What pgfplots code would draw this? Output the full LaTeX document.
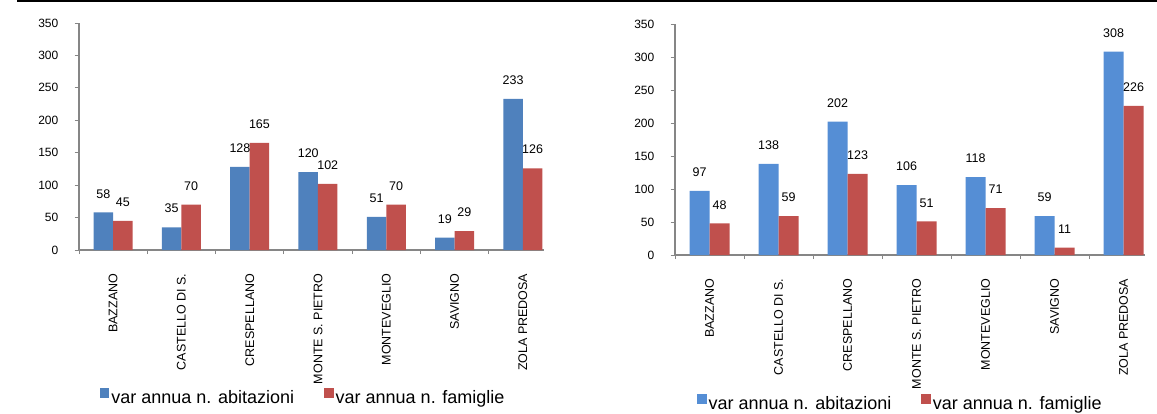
\documentclass[border=0pt]{standalone}
\usepackage{pgfplots}
\pgfplotsset{compat=1.18}
\usepackage{fontspec}
\setmainfont{Liberation Sans}
\definecolor{blueL}{HTML}{4F81BD}
\definecolor{blueR}{HTML}{558ED5}
\definecolor{redB}{HTML}{C0504D}
\definecolor{axgray}{HTML}{868686}
\pgfplotsset{
  /pgf/number format/assume math mode=true,
  sqleg/.style={legend image code/.code={\fill[##1] (0bp,0bp) rectangle (9.5bp,9.5bp);}},
  mybars/.style={
    ybar=0pt,
    scale only axis,
    xmin=-0.5, xmax=6.31, ymin=0, ymax=350,
    axis x line*=bottom, axis y line*=left,
    axis line style={draw=axgray, line width=1.1bp, -},
    ytick={0,50,...,350},
    xtick={0,...,6},
    xticklabels={BAZZANO, CASTELLO DI S., CRESPELLANO, MONTE S. PIETRO, MONTEVEGLIO, SAVIGNO, ZOLA PREDOSA},
    minor xtick={-0.5,0.5,...,5.5},
    tick align=outside,
    tick style={draw=axgray, line width=1bp},
    major x tick style={draw=none},
    major tick length=4.5bp, minor tick length=4bp,
    yticklabel style={font=\fontsize{12bp}{14bp}\selectfont, anchor=east, inner sep=0pt},
    yticklabel shift=16bp,
    xticklabel style={font=\fontsize{12.5bp}{14bp}\selectfont, rotate=90, anchor=east, inner sep=0pt},
    xticklabel shift=19bp,
    nodes near coords,
    nodes near coords style={font=\fontsize{12.5bp}{14bp}\selectfont, anchor=south, inner sep=0pt, yshift=14bp, text=black},
    clip=false,
    legend columns=2,
    legend style={draw=none, fill=none, inner sep=0pt, outer sep=0pt,
      font=\fontsize{18bp}{20bp}\selectfont,
      nodes={inner sep=2bp},
      /tikz/every even column/.append style={column sep=28bp}},
    every axis plot post/.append style={sqleg},
  }
}
\begin{document}
\begin{tikzpicture}
\useasboundingbox (0,0) rectangle (1157bp,-414bp);
\draw[black, line width=1.5bp] (17bp,-0.75bp) -- (1157bp,-0.75bp);
% left chart
\begin{axis}[mybars, at={(79bp,-250bp)}, anchor=south west,
  width=465bp, height=227bp, bar width=19.5bp,
  legend style={at={(0.045,-0.65)}, anchor=west}]
\addplot[fill=blueL, draw=none] coordinates {(0,58) (1,35) (2,128) (3,120) (4,51) (5,19) (6,233)};
\addplot[fill=redB, draw=none] coordinates {(0,45) (1,70) (2,165) (3,102) (4,70) (5,29) (6,126)};
\legend{var annua n. abitazioni, var annua n. famiglie}
\end{axis}
% right chart
\begin{axis}[mybars, at={(675bp,-255bp)}, anchor=south west,
  width=470bp, height=231bp, bar width=20bp,
  legend style={at={(0.047,-0.643)}, anchor=west}]
\addplot[fill=blueR, draw=none] coordinates {(0,97) (1,138) (2,202) (3,106) (4,118) (5,59) (6,308)};
\addplot[fill=redB, draw=none] coordinates {(0,48) (1,59) (2,123) (3,51) (4,71) (5,11) (6,226)};
\legend{var annua n. abitazioni, var annua n. famiglie}
\end{axis}
\end{tikzpicture}
\end{document}
